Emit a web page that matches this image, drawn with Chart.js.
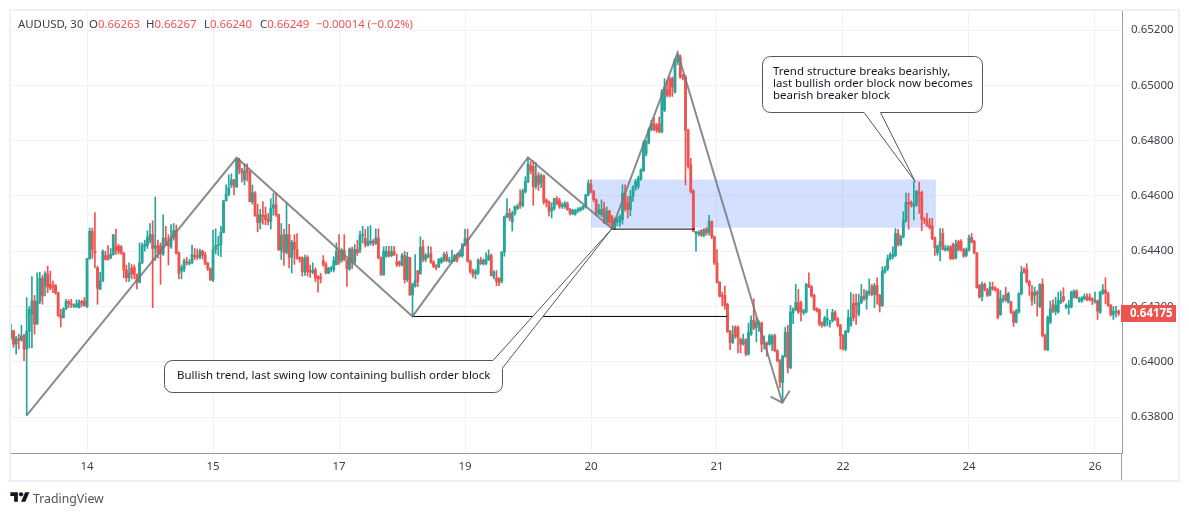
<!DOCTYPE html>
<html>
<head>
<meta charset="utf-8">
<script src="https://cdn.jsdelivr.net/npm/chart.js@4"></script>
<style>
  html, body { margin: 0; background: #fff; }
  body { width: 1189px; height: 516px; position: relative; overflow: hidden; font-family: "Noto Sans", sans-serif; }
  #frame { position: absolute; left: 9px; top: 9px; width: 1167px; height: 469px; border: 2px solid #eff0f5; }
  canvas { position: absolute; left: 0; top: 0; }
  .hd { position: absolute; top: 16px; font-size: 11.4px; line-height: 16px; color: #3a3e4a; white-space: pre; }
  .hd b { font-weight: normal; color: #ef5350; }
  #brand { position: absolute; left: 33px; top: 489px; font-size: 12.3px; line-height: 19px; color: #50535e; }
  #logo { position: absolute; left: 10px; top: 490px; }
</style>
</head>
<body>
<div id="frame"></div>
<canvas id="chart" width="1189" height="516"></canvas>
<div class="hd" style="left:18px">AUDUSD, 30</div>
<div class="hd" style="left:89px">O<b>0.66263</b></div>
<div class="hd" style="left:146px">H<b>0.66267</b></div>
<div class="hd" style="left:204px">L<b>0.66240</b></div>
<div class="hd" style="left:260px">C<b>0.66249</b></div>
<div class="hd" style="left:316px"><b>−0.00014 (−0.02%)</b></div>
<svg id="logo" width="20" height="15" viewBox="0 0 36 28"><path fill="#131722" d="M14 22H7V11H0V4h14v18zM28 22h-8l7.5-18h8L28 22z"/><circle fill="#131722" cx="20" cy="8" r="4"/></svg>
<div id="brand">TradingView</div>
<script>
// prices in points (0.00001)
const opens = [
  64088,64112,64064,64084,64078,64094,64046,64110,64172,64220,
  64136,64218,64302,64274,64318,64280,64276,64276,64250,64168,
  64160,64190,64218,64210,64200,64200,64196,64218,64220,64200,
  64374,64472,64400,64340,64262,64292,64384,64384,64376,64388,
  64418,64418,64416,64394,64332,64304,64340,64340,64316,64288,
  64358,64418,64420,64440,64460,64410,64420,64420,64390,64448,
  64430,64415,64450,64475,64394,64328,64335,64362,64356,64358,
  64384,64384,64378,64400,64386,64356,64336,64296,64406,64420,
  64424,64468,64582,64607,64640,64658,64634,64730,64694,64658,
  64700,64688,64580,64610,64532,64504,64530,64530,64516,64508,
  64556,64568,64532,64404,64460,64396,64460,64378,64432,64406,
  64378,64376,64324,64378,64331,64324,64333,64308,64307,64366,
  64352,64321,64334,64333,64352,64400,64367,64404,64367,64336,
  64408,64360,64406,64404,64457,64446,64422,64430,64436,64428,
  64448,64376,64315,64382,64399,64384,64399,64361,64360,64349,
  64384,64297,64376,64242,64273,64330,64319,64416,64370,64380,
  64392,64360,64348,64343,64360,64367,64388,64364,64364,64367,
  64387,64382,64384,64424,64446,64364,64330,64319,64321,64368,
  64355,64355,64370,64384,64309,64303,64301,64291,64398,64525,
  64537,64505,64537,64555,64578,64565,64616,64652,64709,64707,
  64634,64673,64648,64673,64585,64578,64545,64555,64590,64582,
  64561,64561,64573,64551,64536,64534,64544,64548,64555,64560,
  64604,64640,64616,64586,64535,64532,64556,64505,64546,64525,
  64484,64505,64505,64514,64610,64574,64550,64598,64631,64634,
  64661,64691,64754,64792,64840,64862,64856,64860,64832,64910,
  64984,65024,65024,64976,65085,65102,65036,65030,64838,64712,
  64619,64464,64462,64476,64456,64480,64468,64508,64452,64358,
  64288,64240,64240,64208,64110,64070,64124,64124,64082,64064,
  64080,64028,64100,64150,64124,64135,64140,64064,64068,64064,
  64064,64094,64040,64004,63926,64020,64106,63978,64176,64188,
  64214,64214,64178,64180,64280,64272,64240,64192,64188,64140,
  64132,64150,64138,64148,64178,64156,64132,64094,64046,64110,
  64132,64212,64212,64172,64214,64236,64228,64248,64274,64244,
  64276,64240,64204,64325,64337,64373,64380,64385,64464,64425,
  64452,64510,64577,64577,64561,64567,64613,64613,64516,64510,
  64495,64491,64448,64394,64418,64464,64404,64406,64416,64425,
  64376,64434,64436,64406,64385,64404,64450,64436,64392,64276,
  64236,64280,64261,64242,64270,64268,64261,64171,64222,64244,
  64216,64216,64179,64143,64180,64246,64335,64335,64290,64252,
  64240,64252,64200,64280,64095,64043,64143,64207,64183,64180,
  64215,64236,64198,64198,64198,64234,64256,64219,64219,64228,
  64234,64234,64228,64216,64220,64179,64248,64260,64248,64204,
  64171,64179,64183
];
const highs = [
  64136,64114,64092,64100,64132,64100,64232,64200,64308,64240,
  64322,64324,64312,64326,64346,64328,64292,64280,64252,64190,
  64196,64226,64224,64226,64210,64224,64224,64222,64232,64374,
  64484,64484,64540,64346,64324,64405,64400,64420,64410,64460,
  64480,64425,64420,64395,64350,64358,64352,64350,64318,64430,
  64430,64440,64474,64500,64510,64596,64440,64430,64532,64490,
  64460,64496,64500,64495,64398,64350,64372,64378,64370,64422,
  64410,64408,64408,64404,64396,64360,64340,64476,64481,64454,
  64490,64584,64640,64676,64680,64660,64738,64736,64700,64716,
  64716,64690,64640,64616,64570,64552,64580,64560,64536,64590,
  64610,64610,64534,64500,64480,64576,64497,64440,64460,64464,
  64380,64380,64386,64384,64350,64358,64340,64312,64320,64384,
  64360,64342,64345,64380,64430,64460,64410,64460,64372,64412,
  64415,64424,64440,64473,64490,64479,64488,64493,64442,64481,
  64481,64380,64416,64418,64418,64418,64417,64390,64365,64392,
  64400,64396,64378,64285,64388,64330,64452,64440,64392,64418,
  64416,64366,64352,64374,64378,64396,64398,64378,64404,64388,
  64392,64396,64428,64479,64480,64368,64335,64335,64372,64378,
  64372,64394,64405,64390,64330,64330,64305,64398,64528,64590,
  64554,64545,64564,64570,64622,64625,64670,64739,64724,64727,
  64721,64685,64680,64676,64590,64582,64575,64592,64598,64592,
  64575,64580,64578,64555,64552,64552,64558,64560,64565,64606,
  64658,64658,64620,64590,64570,64586,64578,64560,64548,64530,
  64520,64525,64532,64640,64640,64598,64620,64637,64660,64672,
  64698,64800,64800,64846,64874,64883,64862,64886,64985,65024,
  65018,65030,65030,65098,65110,65110,65040,65036,64842,64736,
  64622,64472,64474,64478,64482,64486,64530,64510,64455,64406,
  64290,64252,64274,64212,64114,64130,64130,64130,64086,64100,
  64084,64140,64166,64228,64160,64148,64144,64094,64072,64100,
  64098,64100,64044,64008,64024,64124,64132,64204,64195,64280,
  64262,64220,64190,64284,64322,64276,64244,64196,64192,64145,
  64164,64190,64150,64190,64185,64160,64136,64098,64114,64188,
  64250,64244,64245,64245,64280,64262,64258,64300,64280,64284,
  64304,64244,64344,64345,64386,64395,64416,64482,64479,64458,
  64543,64610,64610,64582,64652,64620,64650,64618,64522,64537,
  64519,64519,64452,64422,64482,64482,64422,64420,64420,64430,
  64440,64440,64442,64410,64412,64458,64464,64440,64396,64280,
  64288,64285,64265,64288,64288,64272,64265,64258,64240,64270,
  64252,64220,64184,64190,64250,64345,64340,64355,64294,64276,
  64270,64258,64283,64300,64100,64166,64220,64224,64234,64252,
  64256,64268,64210,64222,64256,64260,64260,64234,64236,64246,
  64246,64246,64232,64252,64224,64255,64279,64304,64252,64208,
  64200,64201,64188
];
const lows = [
  64080,64052,64028,64046,64074,64004,63806,64050,64050,64100,
  64136,64210,64208,64238,64250,64260,64250,64244,64164,64126,
  64158,64190,64196,64196,64196,64196,64194,64200,64200,64196,
  64370,64374,64340,64208,64262,64290,64368,64368,64372,64385,
  64388,64390,64388,64304,64290,64290,64300,64300,64264,64285,
  64355,64400,64410,64430,64196,64366,64375,64280,64385,64420,
  64350,64410,64440,64390,64300,64300,64325,64350,64350,64355,
  64370,64370,64372,64372,64350,64330,64294,64290,64390,64385,
  64380,64466,64582,64600,64630,64604,64630,64680,64650,64640,
  64654,64578,64570,64526,64470,64480,64498,64495,64495,64480,
  64530,64526,64404,64370,64349,64390,64340,64321,64352,64370,
  64360,64310,64312,64310,64305,64318,64290,64252,64285,64345,
  64318,64318,64325,64325,64350,64352,64360,64365,64273,64330,
  64338,64355,64385,64395,64430,64415,64418,64422,64420,64424,
  64372,64312,64312,64378,64378,64380,64384,64345,64345,64346,
  64285,64290,64240,64164,64270,64272,64316,64362,64362,64376,
  64356,64340,64332,64340,64356,64362,64362,64358,64358,64362,
  64360,64378,64378,64420,64360,64320,64305,64300,64315,64352,
  64350,64350,64366,64310,64300,64275,64275,64285,64382,64520,
  64510,64473,64530,64550,64555,64560,64610,64648,64680,64566,
  64625,64620,64630,64570,64560,64527,64520,64548,64568,64555,
  64555,64555,64548,64530,64532,64530,64540,64545,64550,64556,
  64600,64610,64580,64530,64530,64525,64500,64498,64495,64482,
  64478,64492,64490,64498,64545,64520,64528,64580,64620,64625,
  64656,64688,64745,64788,64835,64835,64830,64828,64828,64905,
  64958,64958,64960,64972,65075,65025,65020,64640,64700,64610,
  64470,64400,64455,64454,64452,64458,64458,64445,64352,64284,
  64234,64202,64190,64106,64044,64066,64085,64032,64032,64060,
  64022,64024,64095,64116,64072,64110,64036,64046,64020,64060,
  64040,64036,64000,63906,63856,64016,63960,63975,64138,64185,
  64175,64148,64170,64176,64268,64234,64186,64180,64130,64125,
  64128,64130,64125,64144,64150,64126,64046,64042,64040,64105,
  64128,64148,64135,64165,64210,64222,64190,64240,64238,64196,
  64208,64180,64200,64320,64330,64368,64372,64380,64418,64420,
  64448,64505,64479,64560,64513,64563,64537,64474,64500,64490,
  64480,64442,64385,64385,64365,64404,64400,64400,64370,64370,
  64372,64400,64400,64378,64380,64400,64430,64390,64266,64230,
  64220,64256,64236,64238,64258,64255,64155,64168,64215,64218,
  64212,64175,64128,64140,64176,64242,64320,64285,64240,64204,
  64210,64165,64196,64090,64042,64040,64138,64178,64170,64176,
  64210,64216,64192,64172,64195,64230,64228,64215,64215,64224,
  64220,64220,64207,64212,64153,64175,64244,64210,64200,64165,
  64153,64161,64167
];
const closes = [
  64112,64064,64084,64078,64094,64046,64110,64190,64220,64136,
  64218,64302,64238,64318,64270,64266,64270,64250,64168,64160,
  64190,64218,64210,64206,64206,64210,64218,64212,64204,64374,
  64472,64406,64394,64266,64292,64400,64370,64370,64388,64460,
  64404,64400,64394,64332,64304,64320,64318,64316,64290,64358,
  64420,64425,64450,64460,64410,64420,64394,64390,64448,64430,
  64420,64450,64475,64392,64320,64340,64366,64358,64360,64388,
  64380,64378,64400,64385,64356,64336,64296,64406,64420,64424,
  64468,64582,64607,64630,64658,64634,64732,64694,64684,64690,
  64684,64580,64612,64530,64504,64532,64526,64514,64508,64556,
  64568,64532,64404,64457,64396,64460,64378,64432,64406,64376,
  64372,64327,64376,64325,64324,64331,64303,64300,64300,64352,
  64321,64339,64338,64366,64400,64358,64404,64370,64337,64408,
  64364,64406,64394,64457,64460,64422,64436,64437,64428,64448,
  64376,64315,64400,64400,64384,64399,64388,64352,64352,64384,
  64297,64380,64242,64279,64293,64290,64414,64370,64385,64386,
  64360,64345,64342,64370,64372,64388,64367,64368,64368,64384,
  64367,64392,64424,64446,64364,64327,64315,64327,64367,64355,
  64367,64370,64384,64312,64324,64291,64287,64398,64525,64537,
  64521,64537,64561,64562,64565,64618,64652,64715,64691,64634,
  64673,64642,64673,64578,64576,64545,64558,64590,64573,64561,
  64566,64573,64551,64537,64548,64546,64552,64556,64562,64604,
  64646,64616,64586,64538,64550,64550,64505,64544,64505,64486,
  64514,64514,64526,64610,64552,64550,64598,64631,64652,64664,
  64694,64790,64796,64840,64862,64840,64838,64832,64976,64994,
  64964,64964,64994,65093,65096,65030,65030,64838,64708,64616,
  64472,64470,64468,64456,64478,64466,64508,64452,64358,64288,
  64238,64235,64204,64110,64070,64096,64092,64088,64064,64080,
  64028,64106,64150,64122,64142,64140,64064,64068,64060,64094,
  64094,64040,64004,63926,64020,64106,63980,64180,64190,64214,
  64180,64180,64184,64280,64272,64238,64190,64184,64136,64132,
  64158,64158,64142,64178,64154,64132,64094,64046,64110,64160,
  64160,64160,64204,64214,64236,64228,64254,64254,64244,64274,
  64240,64202,64328,64337,64373,64388,64388,64464,64425,64452,
  64513,64577,64571,64567,64571,64616,64607,64516,64510,64495,
  64486,64446,64413,64418,64434,64407,64412,64412,64373,64373,
  64425,64406,64406,64382,64406,64448,64434,64394,64268,64234,
  64280,64261,64240,64270,64264,64261,64161,64228,64228,64224,
  64246,64179,64143,64185,64246,64325,64325,64289,64275,64222,
  64252,64244,64280,64095,64044,64161,64192,64183,64204,64222,
  64222,64222,64204,64204,64252,64256,64232,64228,64232,64236,
  64224,64224,64222,64222,64183,64252,64260,64248,64204,64171,
  64183,64183,64175
];

const priceTicks = [63800, 64000, 64200, 64400, 64600, 64800, 65000, 65200];
const dayTicks = [29, 77, 125, 173, 221, 269, 317, 365, 413];
const dayLabels = ["14", "15", "17", "19", "20", "21", "22", "24", "26"];
const lastPrice = 64175;

// drawings, x in bars, y in points
const zigzagX = [6, 86, 153, 197, 229, 254, 293.9];
const zigzagY = [63806, 64738, 64164, 64739, 64482, 65118, 63852];
const arrowX = [289.4, 293.9, 296.7];
const arrowY = [63874, 63852, 63895];
const lowLineX = [153, 272.8];
const lowLineY = [64164, 64164];
const blockLineX = [229, 260.6];
const blockLineY = [64480, 64480];
const zoneX = [221, 352.4];
const zoneTop = 64659;
const zoneBottom = 64485;

const UP = "#26a69a";
const DOWN = "#ef5350";
const TEXT = "#3a3e4a";
const GRID = "#f1f2f6";
const AXIS = "#9a9da6";

const candleColors = closes.map((c, i) => c >= opens[i] ? UP : DOWN);

function xy(xs, ys) {
  return xs.map((x, i) => ({ x: x, y: ys[i] }));
}

function drawing(xs, ys, color, width) {
  return {
    type: "line", data: xy(xs, ys), borderColor: color, borderWidth: width,
    pointRadius: 0, tension: 0, order: 1
  };
}

function callout(ctx, box, tail, tip, lines, textX, textY) {
  ctx.save();
  ctx.beginPath();
  ctx.roundRect(box.x, box.y, box.w, box.h, 8);
  ctx.fillStyle = "#fff";
  ctx.fill();
  ctx.strokeStyle = "#555";
  ctx.lineWidth = 1;
  ctx.stroke();
  // white wedge opens the border, then the two thin sides of the tail
  ctx.beginPath();
  ctx.moveTo(tail[0][0], tail[0][1]);
  ctx.lineTo(tip.x, tip.y);
  ctx.lineTo(tail[1][0], tail[1][1]);
  ctx.fill();
  ctx.beginPath();
  ctx.moveTo(tail[0][0], tail[0][1]);
  ctx.lineTo(tail[1][0], tail[1][1]);
  ctx.strokeStyle = "#fff";
  ctx.lineWidth = 2;
  ctx.stroke();
  ctx.beginPath();
  ctx.moveTo(tail[0][0], tail[0][1]);
  ctx.lineTo(tip.x, tip.y);
  ctx.lineTo(tail[1][0], tail[1][1]);
  ctx.strokeStyle = "#555";
  ctx.lineWidth = 1;
  ctx.stroke();
  ctx.fillStyle = "#131722";
  ctx.font = '11.5px "Noto Sans"';
  ctx.textBaseline = "middle";
  lines.forEach((t, i) => ctx.fillText(t, textX, textY + i * 12));
  ctx.restore();
}

const overlays = {
  id: "overlays",
  afterDatasetsDraw(chart) {
    const ctx = chart.ctx, sx = chart.scales.x, sy = chart.scales.y;
    callout(ctx, { x: 164.5, y: 360.5, w: 338, h: 32 }, [[493, 360.5], [502.5, 368]],
      { x: sx.getPixelForValue(229), y: sy.getPixelForValue(64482) },
      ["Bullish trend, last swing low containing bullish order block"], 177, 376);
    callout(ctx, { x: 762.5, y: 56.5, w: 220, h: 56 }, [[864, 112.5], [880.5, 112.5]],
      { x: sx.getPixelForValue(344.5), y: sy.getPixelForValue(64652) },
      ["Trend structure breaks bearishly,", "last bullish order block now becomes", "bearish breaker block"], 773, 72);
  },
  afterDraw(chart) {
    const ctx = chart.ctx, sy = chart.scales.y, a = chart.chartArea;
    ctx.save();
    // price axis line runs through the time axis strip
    ctx.strokeStyle = AXIS;
    ctx.beginPath();
    ctx.moveTo(a.right - 0.5, a.bottom);
    ctx.lineTo(a.right - 0.5, 480);
    ctx.stroke();
    const y = sy.getPixelForValue(lastPrice) + 1;
    ctx.fillStyle = DOWN;
    ctx.fillRect(a.right - 1, Math.round(y) - 9, 55, 17);
    ctx.fillStyle = "#fff";
    ctx.font = 'bold 11.5px "Noto Sans"';
    ctx.textBaseline = "middle";
    ctx.fillText((lastPrice / 100000).toFixed(5), a.right + 8, Math.round(y));
    ctx.restore();
  }
};

new Chart(document.getElementById("chart"), {
  type: "bar",
  data: {
    datasets: [
      {
        data: xy(zoneX, [zoneTop, zoneTop]), type: "line", borderWidth: 0, pointRadius: 0,
        fill: { value: zoneBottom }, backgroundColor: "rgba(41,98,255,0.2)", order: 5
      },
      {
        data: lows.map((l, i) => ({ x: i, y: [l, highs[i]] })),
        backgroundColor: candleColors, barThickness: 1, grouped: false, order: 4
      },
      {
        data: opens.map((o, i) => ({ x: i, y: [o, closes[i]] })),
        backgroundColor: candleColors, barThickness: 2.2, minBarLength: 1, grouped: false, order: 3
      },
      drawing(zigzagX, zigzagY, "rgba(120,120,124,0.85)", 2),
      drawing(arrowX, arrowY, "rgba(120,120,124,0.85)", 2),
      drawing(lowLineX, lowLineY, "#000", 1),
      drawing(blockLineX, blockLineY, "#000", 1)
    ]
  },
  plugins: [overlays],
  options: {
    responsive: false,
    animation: false,
    layout: { padding: { left: 11, top: 11, right: 11, bottom: 36 } },
    plugins: { legend: { display: false }, tooltip: { enabled: false } },
    scales: {
      x: {
        type: "linear", offset: false, min: 0.03, max: 423.3,
        afterBuildTicks: axis => { axis.ticks = dayTicks.map(v => ({ value: v })); },
        afterFit: axis => { axis.height = 27; axis.paddingLeft = 0; axis.paddingRight = 0; },
        grid: { color: GRID, offset: false, drawTicks: false },
        border: { color: AXIS },
        ticks: {
          autoSkip: false, maxRotation: 0, padding: 7, color: TEXT,
          font: { family: "Noto Sans", size: 11.5 },
          callback: (v, i) => dayLabels[i]
        }
      },
      y: {
        position: "right", min: 63670, max: 65269,
        afterBuildTicks: axis => { axis.ticks = priceTicks.map(v => ({ value: v })); },
        afterFit: axis => { axis.width = 56; axis.paddingTop = 0; axis.paddingBottom = 0; },
        grid: { color: GRID, drawTicks: false },
        border: { color: AXIS },
        ticks: {
          padding: 9, color: TEXT, font: { family: "Noto Sans", size: 11.5 },
          callback: v => (v / 100000).toFixed(5)
        }
      }
    }
  }
});
</script>
</body>
</html>
